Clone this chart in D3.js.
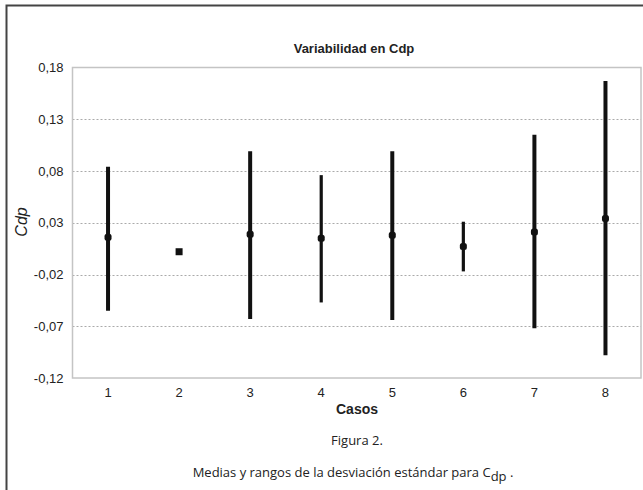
<!DOCTYPE html>
<html>
<head>
<meta charset="utf-8">
<script src="https://cdn.jsdelivr.net/npm/d3@7/dist/d3.min.js"></script>
<style>
  html, body { margin: 0; padding: 0; background: #fff; }
  svg { display: block; }
</style>
</head>
<body>
<svg id="chart" width="643" height="490"></svg>
<script>
const cases = ["1", "2", "3", "4", "5", "6", "7", "8"];
const means = [0.016, 0.002, 0.019, 0.015, 0.018, 0.007, 0.021, 0.034];
const maxs  = [0.084, 0.002, 0.099, 0.076, 0.099, 0.031, 0.115, 0.167];
const mins  = [-0.055, 0.002, -0.063, -0.047, -0.064, -0.017, -0.072, -0.098];
const yTicks = [-0.12, -0.07, -0.02, 0.03, 0.08, 0.13, 0.18];

const title = "Variabilidad en Cdp";
const xTitle = "Casos";
const yTitle = "Cdp";
const figLabel = "Figura 2.";

const svg = d3.select("#chart");
const plot = { left: 72.5, right: 641, top: 67.5, bottom: 378 };
const axisFont = "'Liberation Sans', Arial, Helvetica, sans-serif";

// outer frame
svg.append("rect")
  .attr("x", 6.5).attr("y", 5.5)
  .attr("width", 700).attr("height", 600)
  .attr("fill", "none").attr("stroke", "#444").attr("stroke-width", 2);

const x = d3.scaleBand().domain(cases).range([plot.left, plot.right]);
const y = d3.scaleLinear().domain([-0.12, 0.18]).range([plot.bottom, plot.top]);
const fmt = v => d3.format(".2f")(v).replace("\u2212", "-").replace(".", ",");

// gridlines
svg.append("g").selectAll("line")
  .data(yTicks.filter(t => t > -0.12 && t < 0.18))
  .join("line")
  .attr("x1", plot.left).attr("x2", plot.right)
  .attr("y1", d => Math.round(y(d)) + 0.5).attr("y2", d => Math.round(y(d)) + 0.5)
  .attr("stroke", "#aaa").attr("stroke-width", 1)
  .attr("stroke-dasharray", "2,2");

// plot frame
svg.append("rect")
  .attr("x", plot.left).attr("y", plot.top)
  .attr("width", plot.right - plot.left).attr("height", plot.bottom - plot.top)
  .attr("fill", "none").attr("stroke", "#c4c4c4").attr("stroke-width", 1.5);

// y axis labels
const yAxis = d3.axisLeft(y).tickValues(yTicks).tickFormat(fmt).tickSize(0).tickPadding(9);
const gy = svg.append("g").attr("transform", `translate(${plot.left},0)`).call(yAxis);
gy.attr("font-family", null);
gy.select(".domain").remove();
gy.selectAll("text")
  .style("font-family", axisFont)
  .attr("font-size", 13).attr("fill", "#222");

// x axis labels
const xAxis = d3.axisBottom(x).tickSize(0).tickPadding(10);
const gx = svg.append("g").attr("transform", `translate(0,${plot.bottom})`).call(xAxis);
gx.attr("font-family", null);
gx.select(".domain").remove();
gx.selectAll("text")
  .style("font-family", axisFont)
  .attr("font-size", 13).attr("fill", "#222");

// error bars
const data = cases.map((c, i) => ({ c, mean: means[i], max: maxs[i], min: mins[i] }));
const thin = new Set(["4", "6"]);
svg.append("g").selectAll("line")
  .data(data.filter(d => d.max !== d.min))
  .join("line")
  .attr("x1", d => x(d.c) + x.bandwidth() / 2)
  .attr("x2", d => x(d.c) + x.bandwidth() / 2)
  .attr("y1", d => y(d.max)).attr("y2", d => y(d.min))
  .attr("stroke", "#111")
  .attr("stroke-width", d => thin.has(d.c) ? 3.2 : 4);

// mean markers
svg.append("g").selectAll("rect")
  .data(data)
  .join("rect")
  .attr("x", d => x(d.c) + x.bandwidth() / 2 - 3.5)
  .attr("y", d => y(d.mean) - 3.5)
  .attr("width", 7).attr("height", 7)
  .attr("rx", d => d.max === d.min ? 0 : 2.5)
  .attr("fill", "#111");

// titles
svg.append("text")
  .attr("x", 354).attr("y", 53)
  .attr("text-anchor", "middle")
  .style("font-family", axisFont)
  .attr("font-weight", "bold").attr("font-size", 13)
  .attr("fill", "#222")
  .text(title);

svg.append("text")
  .attr("transform", "translate(27,222) rotate(-90)")
  .attr("text-anchor", "middle")
  .style("font-family", axisFont)
  .attr("font-style", "italic").attr("font-size", 16)
  .attr("fill", "#222")
  .text(yTitle);

svg.append("text")
  .attr("x", 357).attr("y", 414)
  .attr("text-anchor", "middle")
  .style("font-family", axisFont)
  .attr("font-weight", "bold").attr("font-size", 14)
  .attr("fill", "#222")
  .text(xTitle);

svg.append("text")
  .attr("x", 357).attr("y", 445)
  .attr("text-anchor", "middle")
  .style("font-family", "'Open Sans', 'Noto Sans', sans-serif")
  .attr("font-size", 13).attr("fill", "#222")
  .text(figLabel);

const cap = svg.append("text")
  .attr("x", 353).attr("y", 477)
  .attr("text-anchor", "middle")
  .style("font-family", "'Open Sans', 'Noto Sans', sans-serif")
  .attr("font-size", 13).attr("fill", "#222");
cap.append("tspan").text("Medias y rangos de la desviación estándar para C");
cap.append("tspan").attr("dy", 4).text("dp");
cap.append("tspan").attr("dy", -4).text(" .");
</script>
</body>
</html>
